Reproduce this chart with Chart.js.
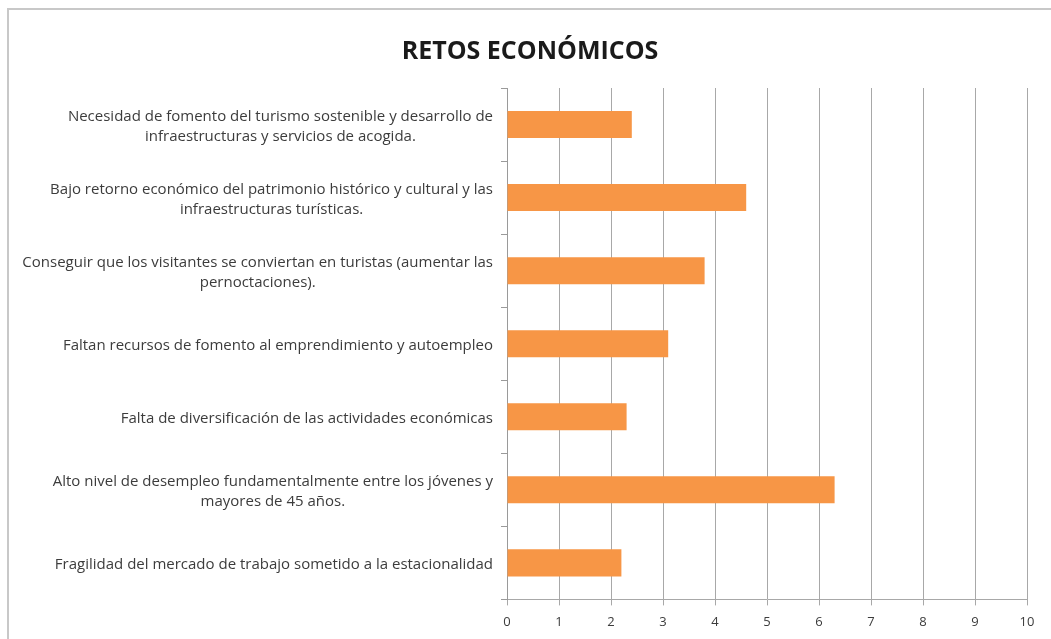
<!DOCTYPE html>
<html>
<head>
<meta charset="utf-8">
<script src="https://cdn.jsdelivr.net/npm/chart.js@4.4.0/dist/chart.umd.min.js"></script>
<style>
  html, body { margin: 0; padding: 0; background: #fff; }
  #marco {
    position: absolute; left: 7px; top: 8px; right: 0; bottom: 0;
    border-left: 2px solid #c8c8c8; border-top: 2px solid #c8c8c8;
  }
  #grafico { position: absolute; left: 0; top: 0; }
</style>
</head>
<body>
<div id="marco"></div>
<canvas id="grafico" width="1051" height="639"></canvas>
<script>
// ================== DATOS ==================
const titulo = 'RETOS ECONÓMICOS';

const categorias = [
  ['Necesidad de fomento del turismo sostenible y desarrollo de', 'infraestructuras y servicios de acogida.'],
  ['Bajo retorno económico del patrimonio histórico y cultural y las', 'infraestructuras turísticas.'],
  ['Conseguir que los visitantes se conviertan en turistas (aumentar las', 'pernoctaciones).'],
  ['Faltan recursos de fomento al emprendimiento y autoempleo'],
  ['Falta de diversificación de las actividades económicas'],
  ['Alto nivel de desempleo fundamentalmente entre los jóvenes y', 'mayores de 45 años.'],
  ['Fragilidad del mercado de trabajo sometido a la estacionalidad']
];

const valores = [2.4, 4.6, 3.8, 3.1, 2.3, 6.3, 2.2];

const ejeXMin = 0;
const ejeXMax = 10;
const ejeXPaso = 1;

// ================== ETIQUETAS DEL EJE Y ==================
// Cada etiqueta va alineada a la derecha como bloque, con sus líneas centradas
const etiquetasY = {
  id: 'etiquetasY',
  afterDraw(chart) {
    const { ctx } = chart;
    const y = chart.scales.y;
    ctx.save();
    ctx.font = '15px "Open Sans"';
    ctx.fillStyle = '#3c3c3c';
    ctx.textAlign = 'center';
    ctx.textBaseline = 'middle';
    categorias.forEach((lineas, i) => {
      const ancho = Math.max(...lineas.map(l => ctx.measureText(l).width));
      const cx = y.right - 14 - ancho / 2;
      const cy = y.getPixelForValue(i) + 2;
      lineas.forEach((l, j) => {
        ctx.fillText(l, cx, cy + (j - (lineas.length - 1) / 2) * 20);
      });
    });
    ctx.restore();
  }
};

// ================== GRÁFICO ==================
new Chart(document.getElementById('grafico').getContext('2d'), {
  type: 'bar',
  data: {
    labels: categorias,
    datasets: [{
      data: valores,
      backgroundColor: '#f79646',
      borderWidth: 0,
      barPercentage: 0.37,
      categoryPercentage: 1
    }]
  },
  options: {
    indexAxis: 'y',
    responsive: false,
    animation: false,
    layout: { padding: { left: 33, right: 24, top: 0, bottom: 0 } },
    plugins: {
      legend: { display: false },
      tooltip: { enabled: false },
      title: {
        display: true,
        text: titulo,
        color: '#1a1a1a',
        font: { family: 'Open Sans', size: 25, weight: 'bold' },
        padding: { top: 37, bottom: 21 }
      }
    },
    scales: {
      x: {
        min: ejeXMin,
        max: ejeXMax,
        ticks: {
          stepSize: ejeXPaso,
          color: '#3c3c3c',
          padding: 9,
          font: { family: 'Open Sans', size: 13 }
        },
        grid: { color: '#a8a8a8', lineWidth: 1, tickLength: 6 },
        border: { color: '#a8a8a8' }
      },
      y: {
        ticks: { display: false },
        grid: { offset: true, drawOnChartArea: false, tickLength: 6, color: '#9a9a9a' },
        border: { color: '#9a9a9a' },
        afterFit(scale) { scale.width = 474; }
      }
    }
  },
  plugins: [etiquetasY]
});
</script>
</body>
</html>
